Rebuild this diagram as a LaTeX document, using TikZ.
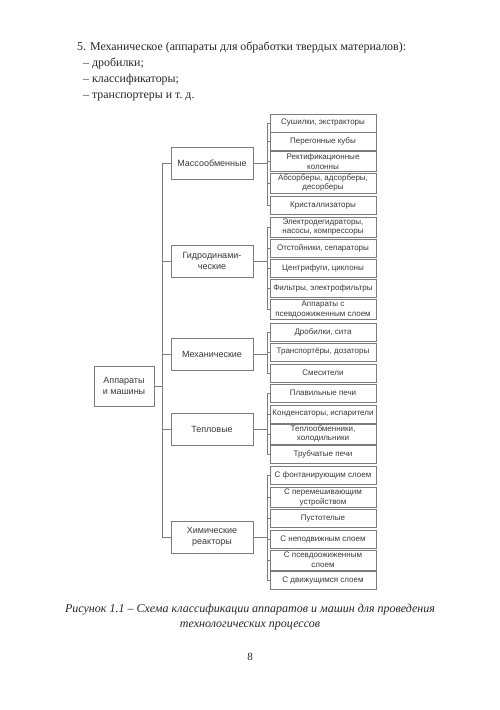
\documentclass[tikz,border=0pt]{standalone}
\usepackage{fontspec}
\setmainfont{Liberation Serif}
\setsansfont{Liberation Sans}

\definecolor{boxgray}{HTML}{7C7C7C}
\definecolor{txtgray}{HTML}{383838}

\tikzset{
  leaf/.style={draw=boxgray, line width=0.7pt, minimum width=106pt, minimum height=18pt,
    inner sep=0pt, align=center, text=txtgray, font=\sffamily\fontsize{8}{9.6}\selectfont},
  leaftwo/.style={leaf, minimum height=20pt},
  group/.style={draw=boxgray, line width=0.7pt, minimum width=82pt, minimum height=32pt,
    inner sep=0pt, align=center, text=txtgray, font=\sffamily\fontsize{9}{11.5}\selectfont},
  rootbox/.style={group, minimum width=60pt, minimum height=40pt},
  link/.style={boxgray, line width=0.7pt},
  bodytext/.style={anchor=base west, inner sep=0pt, text=black!85, font=\fontsize{11.9}{15}\selectfont}
}

\begin{document}
\begin{tikzpicture}[x=1pt, y=-1pt]

  % --- page frame ---
  \fill[white] (0,0) rectangle (500,710);
  \useasboundingbox (0,0) rectangle (500,710);

  % --- text above the figure ---
  \node[bodytext] (item5) at (77,50) {5. Механическое (аппараты для обработки твердых материалов):};
  \node[bodytext] (itemA) at (83,66) {– дробилки;};
  \node[bodytext] (itemB) at (83,82) {– классификаторы;};
  \node[bodytext] (itemC) at (83,98) {– транспортеры и т.~д.};

  % --- root and groups ---
  \node[rootbox] (root) at (124,386) {Аппараты\\и машины};

  \node[group] (mass) at (212,163)   {Массообменные};
  \node[group] (hydro) at (212,261)  {Гидродинами-\\ческие};
  \node[group] (mech) at (212,354.5) {Механические};
  \node[group] (heat) at (212,429)   {Тепловые};
  \node[group] (chem) at (212,537)   {Химические\\реакторы};

  % --- leaves: mass transfer ---
  \node[leaf]    (m1) at (323,123)   {Сушилки, экстракторы};
  \node[leaf]    (m2) at (323,141.5) {Перегонные кубы};
  \node[leaftwo] (m3) at (323,161.5) {Ректификационные\\колонны};
  \node[leaftwo] (m4) at (323,183)   {Абсорберы, адсорберы,\\десорберы};
  \node[leaf]    (m5) at (323,205.5) {Кристаллизаторы};

  % --- leaves: hydrodynamic ---
  \node[leaftwo] (h1) at (323,227)   {Электродегидраторы,\\насосы, компрессоры};
  \node[leaf]    (h2) at (323,248)   {Отстойники, сепараторы};
  \node[leaf]    (h3) at (323,268)   {Центрифуги, циклоны};
  \node[leaf]    (h4) at (323,288)   {Фильтры, электрофильтры};
  \node[leaftwo] (h5) at (323,309.5) {Аппараты с\\псевдоожиженным слоем};

  % --- leaves: mechanical ---
  \node[leaf] (k1) at (323,332) {Дробилки, сита};
  \node[leaf] (k2) at (323,352) {Транспортёры, дозаторы};
  \node[leaf] (k3) at (323,373) {Смесители};

  % --- leaves: thermal ---
  \node[leaf]    (t1) at (323,393) {Плавильные печи};
  \node[leaf]    (t2) at (323,414) {Конденсаторы, испарители};
  \node[leaftwo] (t3) at (323,434) {Теплообменники,\\холодильники};
  \node[leaf]    (t4) at (323,454) {Трубчатые печи};

  % --- leaves: chemical reactors ---
  \node[leaf]    (r1) at (323,475)   {С фонтанирующим слоем};
  \node[leaftwo] (r2) at (323,497.5) {С перемешивающим\\устройством};
  \node[leaf]    (r3) at (323,518.5) {Пустотелые};
  \node[leaf]    (r4) at (323,539)   {С неподвижным слоем};
  \node[leaftwo] (r5) at (323,560)   {С псевдоожиженным\\слоем};
  \node[leaf]    (r6) at (323,580.5) {С движущимся слоем};

  % --- trunk ---
  \draw[link] (root.east) -- ++(8,0) |- (mass.west);
  \draw[link] (root.east) -- ++(8,0) |- (hydro.west);
  \draw[link] (root.east) -- ++(8,0) |- (mech.west);
  \draw[link] (root.east) -- ++(8,0) |- (heat.west);
  \draw[link] (root.east) -- ++(8,0) |- (chem.west);

  % --- buses to leaves ---
  \draw[link] (mass.east) -- ++(14,0) |- (m1.west);
  \draw[link] (mass.east) -- ++(14,0) |- (m2.west);
  \draw[link] (mass.east) -- ++(14,0) |- (m3.west);
  \draw[link] (mass.east) -- ++(14,0) |- (m4.west);
  \draw[link] (mass.east) -- ++(14,0) |- (m5.west);

  \draw[link] (hydro.east) -- ++(14,0) |- (h1.west);
  \draw[link] (hydro.east) -- ++(14,0) |- (h2.west);
  \draw[link] (hydro.east) -- ++(14,0) |- (h3.west);
  \draw[link] (hydro.east) -- ++(14,0) |- (h4.west);
  \draw[link] (hydro.east) -- ++(14,0) |- (h5.west);

  \draw[link] (mech.east) -- ++(14,0) |- (k1.west);
  \draw[link] (mech.east) -- ++(14,0) |- (k2.west);
  \draw[link] (mech.east) -- ++(14,0) |- (k3.west);

  \draw[link] (heat.east) -- ++(14,0) |- (t1.west);
  \draw[link] (heat.east) -- ++(14,0) |- (t2.west);
  \draw[link] (heat.east) -- ++(14,0) |- (t3.west);
  \draw[link] (heat.east) -- ++(14,0) |- (t4.west);

  \draw[link] (chem.east) -- ++(14,0) |- (r1.west);
  \draw[link] (chem.east) -- ++(14,0) |- (r2.west);
  \draw[link] (chem.east) -- ++(14,0) |- (r3.west);
  \draw[link] (chem.east) -- ++(14,0) |- (r4.west);
  \draw[link] (chem.east) -- ++(14,0) |- (r5.west);
  \draw[link] (chem.east) -- ++(14,0) |- (r6.west);

  % --- caption and page number ---
  \node[align=center, inner sep=0pt, text=black!85, font=\itshape\fontsize{12}{14.5}\selectfont]
    (caption) at (250,617) {Рисунок 1.1 – Схема классификации аппаратов и машин для проведения\\технологических процессов};
  \node[inner sep=0pt, text=black!85, font=\fontsize{11}{13}\selectfont] (pagenum) at (250,657) {8};

\end{tikzpicture}
\end{document}
